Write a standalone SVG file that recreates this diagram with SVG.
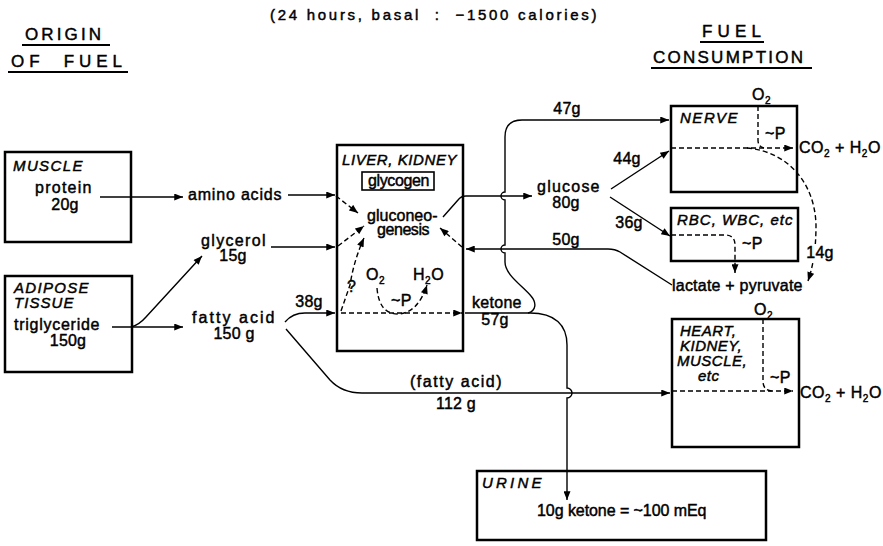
<svg xmlns="http://www.w3.org/2000/svg" width="883" height="546" viewBox="0 0 883 546">
<style>
text{font-family:"Liberation Sans",Arial,sans-serif;font-size:16px;fill:#000;stroke:#000;stroke-width:0.45px;letter-spacing:0.5px}
.i{font-style:italic;font-size:15px}
.h{font-size:17px;letter-spacing:2px}
.n{text-anchor:middle;letter-spacing:0.2px}
.s{font-size:10px}
.box{fill:none;stroke:#000;stroke-width:2.5}
.ln{fill:none;stroke:#000;stroke-width:1.4}
.d{stroke-dasharray:5 3}
.u{fill:none;stroke:#000;stroke-width:2}
</style>
<defs>
<marker id="ah" viewBox="0 0 10 8" refX="10" refY="4" markerWidth="10" markerHeight="7" orient="auto" markerUnits="userSpaceOnUse">
<path d="M0,0 L10,4 L0,8 z" fill="#000"/>
</marker>
</defs>

<g id="headers">
<text x="270" y="20" textLength="327" lengthAdjust="spacing" style="font-size:15px;white-space:pre">(24 hours, basal  :  −1500 calories)</text>
<text class="h" x="25" y="40" textLength="78" lengthAdjust="spacing">ORIGIN</text>
<path class="u" d="M22,45 H110"/>
<text class="h" x="11" y="67" textLength="113" lengthAdjust="spacing" style="white-space:pre">OF  FUEL</text>
<path class="u" d="M8,72 H128"/>
<text class="h" x="702" y="37" textLength="61" lengthAdjust="spacing">FUEL</text>
<path class="u" d="M700,42 H764"/>
<text class="h" x="653" y="63" textLength="152" lengthAdjust="spacing">CONSUMPTION</text>
<path class="u" d="M651,68 H812"/>
</g>

<g id="connectors">
<path class="ln" marker-end="url(#ah)" d="M100,197 L183,197"/>
<path class="ln" marker-end="url(#ah)" d="M288,195 L335,195"/>
<path class="ln" marker-end="url(#ah)" d="M112,327 L183,327"/>
<path class="ln" marker-end="url(#ah)" d="M131,327 Q139,325 146,317 L202,256"/>
<path class="ln" marker-end="url(#ah)" d="M271,247 L335,247"/>
<path class="ln" marker-end="url(#ah)" d="M285,322 C290,316 296,313 305,313 L335,313"/>
<path class="ln" marker-end="url(#ah)" d="M286,329 L330,380 Q342,393 362,393 L670,393"/>
<path class="ln" marker-end="url(#ah)" d="M443,217 L458,200 Q461,196 466,196 L532,196"/>
<path class="ln" marker-end="url(#ah)" d="M672,285 L620,252 Q615,249 608,249 L466,249"/>
<path class="ln" marker-end="url(#ah)" d="M611,189 L669,151"/>
<path class="ln" marker-end="url(#ah)" d="M610,197 L670,236"/>
<path class="ln" marker-end="url(#ah)" d="M465,313 L530,313 C555,313 567,325 567,345 L567,388 A5,5 0 0 1 567,398 L567,500"/>
<path class="ln" marker-end="url(#ah)" d="M528,313 C536,311 537,303 531,296 C523,286 505,275 505,262 L505,253 A4,4 0 0 1 505,245 L505,200 A4,4 0 0 1 505,192 L505,137 Q505,120 522,120 L669,120"/>
<path class="ln d" marker-end="url(#ah)" d="M336,196 L358,213"/>
<path class="ln d" marker-end="url(#ah)" d="M338,246 L364,226"/>
<path class="ln d" marker-end="url(#ah)" d="M341,311 L350,285 Q354,260 364,238"/>
<path class="ln d" marker-end="url(#ah)" d="M341,313 L462,313"/>
<path class="ln d" marker-end="url(#ah)" d="M377,288 Q379,314 398,314 Q418,313 427,285"/>
<path class="ln d" marker-end="url(#ah)" d="M462,247 L440,228"/>
<path class="ln d" marker-end="url(#ah)" d="M671,148 L793,148"/>
<path class="ln d" d="M758,106 L758,140 Q758,148 766,148"/>
<path class="ln d" marker-end="url(#ah)" d="M747,148 C790,152 815,185 816,225 C816,250 813,266 808,281"/>
<path class="ln d" marker-end="url(#ah)" d="M671,235 L725,235 Q735,235 735,245 L735,273"/>
<path class="ln d" marker-end="url(#ah)" d="M672,391 L793,391"/>
<path class="ln d" d="M763,319 L763,381 Q763,391 773,391"/>
</g>

<g id="muscle">
<rect class="box" x="5" y="152" width="126" height="90"/>
<text class="i" x="13" y="171" textLength="70" lengthAdjust="spacing">MUSCLE</text>
<text x="35" y="193" textLength="57" lengthAdjust="spacing">protein</text>
<text class="n" x="65" y="210">20g</text>
</g>

<g id="adipose">
<rect class="box" x="5" y="276" width="127" height="96"/>
<text class="i" x="14" y="293" textLength="75" lengthAdjust="spacing">ADIPOSE</text>
<text class="i" x="14" y="308" textLength="60" lengthAdjust="spacing">TISSUE</text>
<text x="14" y="330" textLength="86" lengthAdjust="spacing">triglyceride</text>
<text class="n" x="68" y="346">150g</text>
</g>

<g id="intermediates">
<text x="188" y="200" textLength="94" lengthAdjust="spacing">amino acids</text>
<text x="201" y="246" textLength="65" lengthAdjust="spacing">glycerol</text>
<text class="n" x="233" y="261">15g</text>
<text x="192" y="323" textLength="83" lengthAdjust="spacing">fatty acid</text>
<text class="n" x="234" y="339">150 g</text>
<text class="n" x="309" y="307">38g</text>
<text x="410" y="387" textLength="92" lengthAdjust="spacing">(fatty acid)</text>
<text class="n" x="456" y="409">112 g</text>
<text x="472" y="308" textLength="50" lengthAdjust="spacing">ketone</text>
<text class="n" x="495" y="325">57g</text>
<text class="n" x="567" y="114">47g</text>
<text x="537" y="192" textLength="63" lengthAdjust="spacing">glucose</text>
<text class="n" x="566" y="208">80g</text>
<text class="n" x="627" y="164">44g</text>
<text class="n" x="629" y="228">36g</text>
<text class="n" x="566" y="245">50g</text>
<rect x="806" y="244" width="28" height="17" fill="#fff"/>
<text class="n" x="820" y="258">14g</text>
<text x="672" y="291" textLength="131" lengthAdjust="spacing">lactate + pyruvate</text>
</g>

<g id="liver">
<rect class="box" x="337" y="145" width="126" height="206"/>
<text class="i" x="342" y="165" textLength="115" lengthAdjust="spacing">LIVER, KIDNEY</text>
<rect x="362" y="172" width="72" height="18" fill="none" stroke="#000" stroke-width="1.6"/>
<text x="368" y="186" textLength="62" lengthAdjust="spacing">glycogen</text>
<text x="367" y="221" textLength="71" lengthAdjust="spacing">gluconeo-</text>
<text x="377" y="235" textLength="53" lengthAdjust="spacing">genesis</text>
<text x="347" y="292">?</text>
<text x="366" y="280">O<tspan class="s" dy="4">2</tspan></text>
<text x="413" y="280">H<tspan class="s" dy="4">2</tspan><tspan dy="-4">O</tspan></text>
<text x="391" y="306">~P</text>
</g>

<g id="nerve">
<rect class="box" x="671" y="106" width="126" height="86"/>
<text class="i" x="680" y="123" textLength="58" lengthAdjust="spacing">NERVE</text>
<text x="752" y="100">O<tspan class="s" dy="4">2</tspan></text>
<text x="765" y="139">~P</text>
<text x="799" y="153">CO<tspan class="s" dy="4">2</tspan><tspan dy="-4"> + H</tspan><tspan class="s" dy="4">2</tspan><tspan dy="-4">O</tspan></text>
</g>

<g id="rbc">
<rect class="box" x="671" y="208" width="127" height="53"/>
<text class="i" x="677" y="225" textLength="116" lengthAdjust="spacing">RBC, WBC, etc</text>
<text x="742" y="249">~P</text>
</g>

<g id="heart">
<rect class="box" x="672" y="319" width="127" height="128"/>
<text class="i" x="680" y="336">HEART,</text>
<text class="i" x="680" y="351">KIDNEY,</text>
<text class="i" x="677" y="366">MUSCLE,</text>
<text class="i" x="698" y="381">etc</text>
<text x="754" y="315">O<tspan class="s" dy="4">2</tspan></text>
<text x="770" y="383">~P</text>
<text x="800" y="398">CO<tspan class="s" dy="4">2</tspan><tspan dy="-4"> + H</tspan><tspan class="s" dy="4">2</tspan><tspan dy="-4">O</tspan></text>
</g>

<g id="urine">
<rect class="box" x="477" y="471" width="289" height="69"/>
<text class="i" x="482" y="488" textLength="60" lengthAdjust="spacing">URINE</text>
<text x="537" y="516" textLength="170" lengthAdjust="spacing">10g ketone = ~100 mEq</text>
</g>
</svg>
